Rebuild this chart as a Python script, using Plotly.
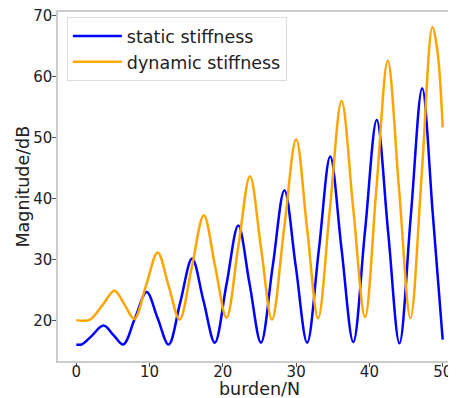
import plotly.graph_objects as go

# burden (N) sample positions, with magnitudes (dB)
static_x = [0.0, 0.7, 2.0, 3.7, 5.1, 6.4, 8.0, 9.6, 11.1, 12.6, 14.2, 15.8, 17.35, 18.9,
            20.5, 22.1, 23.65, 25.2, 26.8, 28.4, 29.95, 31.5, 33.1, 34.65, 36.2, 37.8,
            39.4, 41.0, 42.55, 44.1, 45.65, 47.2, 48.65, 50.0]
static_y = [16.1, 16.1, 17.4, 19.2, 17.6, 16.1, 20.4, 24.7, 20.4, 16.1, 23.1, 30.2, 23.3, 16.4,
            26.0, 35.6, 26.0, 16.4, 28.9, 41.4, 28.9, 16.4, 31.6, 46.9, 31.7, 16.5,
            34.7, 52.9, 34.6, 16.3, 37.2, 58.1, 37.5, 16.9]

dynamic_x = [0.0, 1.0, 1.9, 3.6, 5.2, 6.6, 7.9, 9.5, 11.1, 12.6, 14.1, 15.75, 17.4, 18.95,
             20.5, 22.1, 23.7, 25.2, 26.7, 28.35, 30.0, 31.5, 33.0, 34.6, 36.2, 37.8,
             39.4, 40.95, 42.5, 44.05, 45.6, 47.15, 48.6, 49.3, 50.0]
dynamic_y = [20.1, 20.0, 20.2, 22.6, 24.9, 22.6, 20.3, 25.7, 31.2, 25.7, 20.2, 28.7, 37.3, 28.9,
             20.5, 32.1, 43.7, 32.0, 20.2, 35.0, 49.7, 35.0, 20.4, 38.2, 56.0, 38.3,
             20.6, 41.6, 62.6, 41.5, 20.4, 44.2, 68.1, 64.0, 51.7]

x_ticks = [0, 10, 20, 30, 40, 50]
y_ticks = [20, 30, 40, 50, 60, 70]
x_title = "burden/N"
y_title = "Magnitude/dB"

fig = go.Figure()
fig.add_trace(go.Scatter(x=static_x, y=static_y, mode="lines", name="static stiffness",
                         legendgroup="a",
                         line=dict(color="#0000ff", width=2.5, shape="spline", smoothing=1.0)))
fig.add_trace(go.Scatter(x=dynamic_x, y=dynamic_y, mode="lines", name="dynamic stiffness",
                         legendgroup="b",
                         line=dict(color="#ffa500", width=2.5, shape="spline", smoothing=1.0)))

font_family = "DejaVu Sans"
# the page body adds an 8px offset, so the figure is sized/placed to compensate
fig.update_layout(
    width=453, height=390,
    margin=dict(l=50, r=0, t=4, b=37),
    paper_bgcolor="white", plot_bgcolor="white",
    font=dict(family=font_family, color="#222222"),
    showlegend=True,
    legend=dict(x=0.022, y=0.985, xanchor="left", yanchor="top",
                bgcolor="white", bordercolor="#dddddd", borderwidth=1,
                font=dict(size=17.5, family=font_family, color="#222222"),
                tracegroupgap=0, itemwidth=49),
    xaxis=dict(range=[-2.5, 52.5], tickvals=x_ticks, showgrid=False, zeroline=False,
               showline=True, linecolor="#cccccc", linewidth=1.5, mirror=True,
               ticks="outside", ticklen=4, tickcolor="#555555",
               tickfont=dict(size=15), automargin=False,
               ticklabelstandoff=-8, ticklabeloverflow="allow"),
    yaxis=dict(range=[13.4, 70.6], tickvals=y_ticks, showgrid=False, zeroline=False,
               showline=True, linecolor="#cccccc", linewidth=1.5, mirror=False,
               ticks="outside", ticklen=4, tickcolor="#555555",
               tickfont=dict(size=15), automargin=False,
               ticklabelstandoff=-3, ticklabeloverflow="allow"),
    annotations=[
        dict(text=x_title, xref="paper", yref="paper", x=0.5, y=-0.080,
             xanchor="center", yanchor="middle", showarrow=False,
             font=dict(size=17.5, family=font_family, color="#222222")),
        dict(text=y_title, xref="paper", yref="paper", x=-0.0893, y=0.5,
             xanchor="center", yanchor="middle", showarrow=False, textangle=-90,
             font=dict(size=17.5, family=font_family, color="#222222")),
    ],
)

fig.write_html("out.html")
